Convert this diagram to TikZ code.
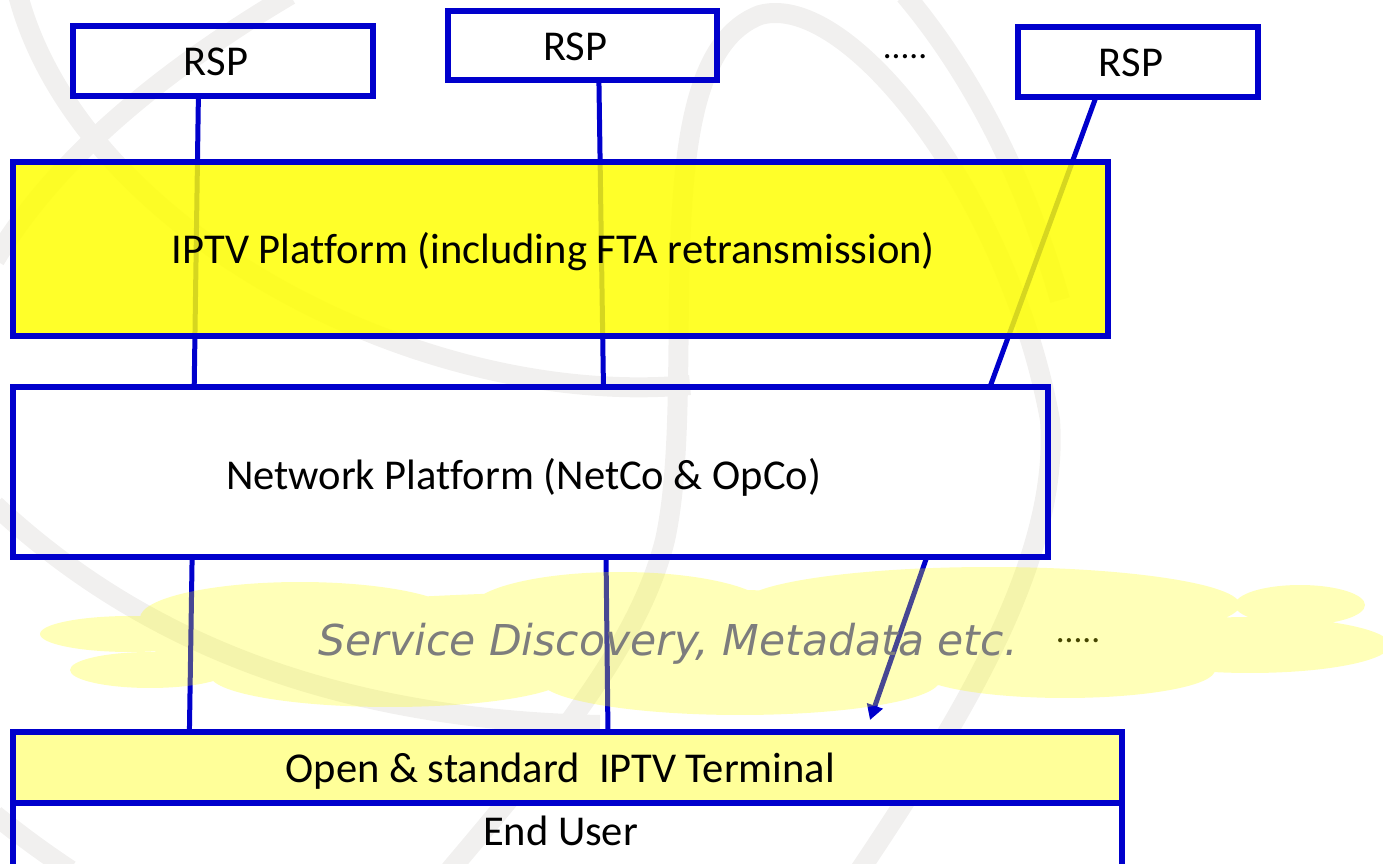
\documentclass[tikz,border=0pt]{standalone}
\usepackage{fontspec}
\setmainfont{Carlito}[Ligatures=NoCommon]
\newfontfamily\notefont{DejaVu Sans}
\usetikzlibrary{calc,arrows.meta}
\definecolor{edge}{RGB}{0,0,204}
\definecolor{mark}{RGB}{241,240,239}
\definecolor{platform}{RGB}{255,255,0}
\definecolor{terminalfill}{RGB}{255,255,153}
\definecolor{mist}{RGB}{255,255,0}
\definecolor{note}{RGB}{125,125,125}
\definecolor{dotolive}{RGB}{70,70,0}
\pgfdeclarelayer{wm}
\pgfdeclarelayer{links}
\pgfsetlayers{wm,links,main}

\begin{document}
\begin{tikzpicture}[x=0.02cm,y=-0.02cm,
  box/.style={draw=edge,line width=0.12cm,rectangle,inner sep=0pt,outer sep=0pt,
    text height=18pt,text depth=1.3pt,
    font=\fontsize{24.2}{28}\selectfont,execute at end node={\hspace*{8pt}}},
  link/.style={draw=edge,line width=0.1cm},
  band/.style={draw=mark,line width=0.4cm},
  dots/.style={font=\fontsize{20}{24}\selectfont,inner sep=0pt},
]
\useasboundingbox (0,0) rectangle (1383,864);

% service providers
\node[box,minimum width=6cm,minimum height=1.4cm] (rsp1) at (223,61) {RSP};
\node[box,minimum width=5.38cm,minimum height=1.38cm] (rsp2) at (582.5,45.5) {RSP};
\node[box,minimum width=4.8cm,minimum height=1.4cm] (rsp3) at (1138,62) {RSP};
\node[dots] (more) at (905,57) {.....};

% platforms
\node[box,fill=platform,fill opacity=0.84,text opacity=1,minimum width=21.9cm,minimum height=3.48cm] (iptv) at (560.5,249)
  {IPTV Platform (including FTA retransmission)};
\node[box,text height=21.4pt,minimum width=20.7cm,minimum height=3.4cm] (net) at (530.5,472)
  {Network Platform (NetCo \& OpCo)};

% terminal and user
\node[box,fill=terminalfill,minimum width=22.18cm,minimum height=1.42cm] (term) at (567.5,767.5)
  {Open \& standard~~IPTV Terminal};
\node[box,text depth=13.2pt,minimum width=22.18cm,minimum height=1.54cm] (user) at (567.5,841.5)
  {End User};

\coordinate (drop) at (870,720);

% connectors
\begin{pgfonlayer}{links}
\draw[link] ($(rsp1.south west)!0.418!(rsp1.south east)$) -- ($(net.north west)!0.175!(net.north east)$);
\draw[link] ($(net.south west)!0.173!(net.south east)$) -- ($(term.north west)!0.159!(term.north east)$);
\draw[link] ($(rsp2.south west)!0.561!(rsp2.south east)$) -- ($(net.north west)!0.5705!(net.north east)$);
\draw[link] ($(net.south west)!0.573!(net.south east)$) -- ($(term.north west)!0.5365!(term.north east)$);
\draw[link] ($(rsp3.south west)!0.325!(rsp3.south east)$) -- ($(net.north west)!0.944!(net.north east)$);
\draw[link,-{Triangle[length=0.3cm,width=0.32cm]}] ($(net.south west)!0.883!(net.south east)$) -- (drop);
\end{pgfonlayer}

% faint emblem behind the diagram
\begin{pgfonlayer}{wm}
\draw[band] (18,-5) .. controls (80,230) and (420,410) .. (690,385);
\draw[band] (450,870) .. controls (560,740) and (640,640) .. (665,540)
  .. controls (700,380) and (640,60) .. (760,15)
  .. controls (850,-10) and (1010,200) .. (1050,420)
  .. controls (1060,560) and (960,720) .. (860,870);
\draw[band] (290,-5) .. controls (180,60) and (60,150) .. (-5,260);
\draw[band] (-5,505) .. controls (150,650) and (350,720) .. (600,725);
\draw[band] (905,-5) .. controls (960,60) and (1020,160) .. (1060,300);
\draw[band] (-5,815) .. controls (20,835) and (40,850) .. (70,870);
\end{pgfonlayer}

% discovery cloud
\fill[mist,opacity=0.28]
  (300,618) ellipse [x radius=3.2cm,y radius=0.72cm]
  (620,610) ellipse [x radius=3.0cm,y radius=0.76cm]
  (990,605) ellipse [x radius=5.0cm,y radius=0.76cm]
  (1300,605) ellipse [x radius=1.3cm,y radius=0.4cm]
  (1250,645) ellipse [x radius=2.8cm,y radius=0.56cm]
  (1065,670) ellipse [x radius=3.0cm,y radius=0.56cm]
  (740,680) ellipse [x radius=4.0cm,y radius=0.7cm]
  (390,675) ellipse [x radius=3.6cm,y radius=0.64cm]
  (150,670) ellipse [x radius=1.6cm,y radius=0.36cm]
  (130,634) ellipse [x radius=1.8cm,y radius=0.36cm]
  (700,640) ellipse [x radius=11.2cm,y radius=1.0cm];
\node[anchor=base,inner sep=0pt,text=note,font=\notefont\itshape\fontsize{24.2}{28}\selectfont] (disc) at (668,655)
  {Service Discovery, Metadata etc.};
\node[dots,text=dotolive] (moremeta) at (1078,641) {.....};
\end{tikzpicture}
\end{document}
